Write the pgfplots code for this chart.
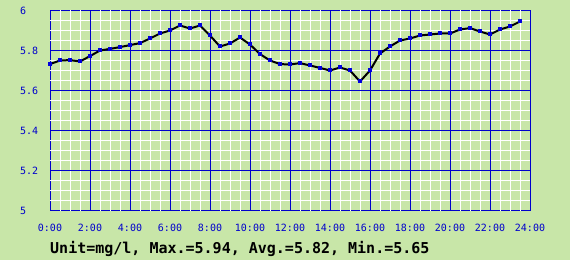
\documentclass[border=0pt]{standalone}
\usepackage{pgfplots}
\pgfplotsset{compat=1.18}
\usepackage{fontspec}
\setmonofont{DejaVu Sans Mono}
\definecolor{bg}{HTML}{C8E6A8}
\definecolor{gblue}{HTML}{0000CC}
\definecolor{mblue}{HTML}{0000DD}
\begin{document}
\begin{tikzpicture}
\fill[bg] (-50bp,-49.5bp) rectangle (520bp,210.5bp);
\begin{axis}[
  at={(0,0)}, anchor=south west,
  scale only axis, width=480bp, height=200bp,
  xmin=0, xmax=24, ymin=5, ymax=6,
  xtick={0,2,...,24},
  xticklabels={0:00,2:00,4:00,6:00,8:00,10:00,12:00,14:00,16:00,18:00,20:00,22:00,24:00},
  ytick={5,5.2,5.4,5.6,5.8,6},
  yticklabels={5,5.2,5.4,5.6,5.8,6},
  axis line style={gblue, line width=1bp},
  major tick length=0pt, minor tick length=0pt,
  tick style={draw=none},
  xticklabel style={font=\fontsize{10bp}{12bp}\selectfont\ttfamily, text=gblue, anchor=center, inner sep=0pt, yshift=-17bp},
  yticklabel style={font=\fontsize{10bp}{12bp}\selectfont\ttfamily, text=gblue, anchor=west, inner sep=0pt, xshift=-30bp},
  clip=false,
]
\pgfplotsinvokeforeach{0.5,1,1.5,2.5,3,3.5,4.5,5,5.5,6.5,7,7.5,8.5,9,9.5,10.5,11,11.5,12.5,13,13.5,14.5,15,15.5,16.5,17,17.5,18.5,19,19.5,20.5,21,21.5,22.5,23,23.5}{
  \draw[white, line width=1bp] (axis cs:#1,5) -- (axis cs:#1,6);
}
\pgfplotsinvokeforeach{5.05,5.1,5.15,5.25,5.3,5.35,5.45,5.5,5.55,5.65,5.7,5.75,5.85,5.9,5.95}{
  \draw[white, line width=1bp] (axis cs:0,#1) -- (axis cs:24,#1);
}
\pgfplotsinvokeforeach{2,4,6,8,10,12,14,16,18,20,22}{
  \draw[gblue, line width=1bp] (axis cs:#1,5) -- (axis cs:#1,6);
}
\pgfplotsinvokeforeach{5.2,5.4,5.6,5.8}{
  \draw[gblue, line width=1bp] (axis cs:0,#1) -- (axis cs:24,#1);
}
\addplot[black, line width=2bp, mark=square*, mark size=1.5bp, mark options={draw=mblue, fill=mblue, line width=0pt}] coordinates {
(0,5.732) (0.5,5.750) (1,5.752) (1.5,5.745) (2,5.772) (2.5,5.800) (3,5.808) (3.5,5.817)
(4,5.827) (4.5,5.837) (5,5.860) (5.5,5.885) (6,5.900) (6.5,5.925) (7,5.910) (7.5,5.925)
(8,5.875) (8.5,5.820) (9,5.835) (9.5,5.865) (10,5.830) (10.5,5.782) (11,5.750) (11.5,5.732)
(12,5.730) (12.5,5.737) (13,5.725) (13.5,5.713) (14,5.700) (14.5,5.715) (15,5.700) (15.5,5.645)
(16,5.700) (16.5,5.785) (17,5.820) (17.5,5.850) (18,5.860) (18.5,5.875) (19,5.880) (19.5,5.885)
(20,5.885) (20.5,5.905) (21,5.912) (21.5,5.895) (22,5.880) (22.5,5.905) (23,5.920) (23.5,5.945)
};
\end{axis}
\node[anchor=base west, inner sep=0pt, font=\fontsize{15bp}{18bp}\selectfont\ttfamily\bfseries] at (0,-43bp) {Unit=mg/l, Max.=5.94, Avg.=5.82, Min.=5.65};
\pgfresetboundingbox
\useasboundingbox (-50bp,-49.5bp) rectangle (520bp,210.5bp);
\end{tikzpicture}
\end{document}
